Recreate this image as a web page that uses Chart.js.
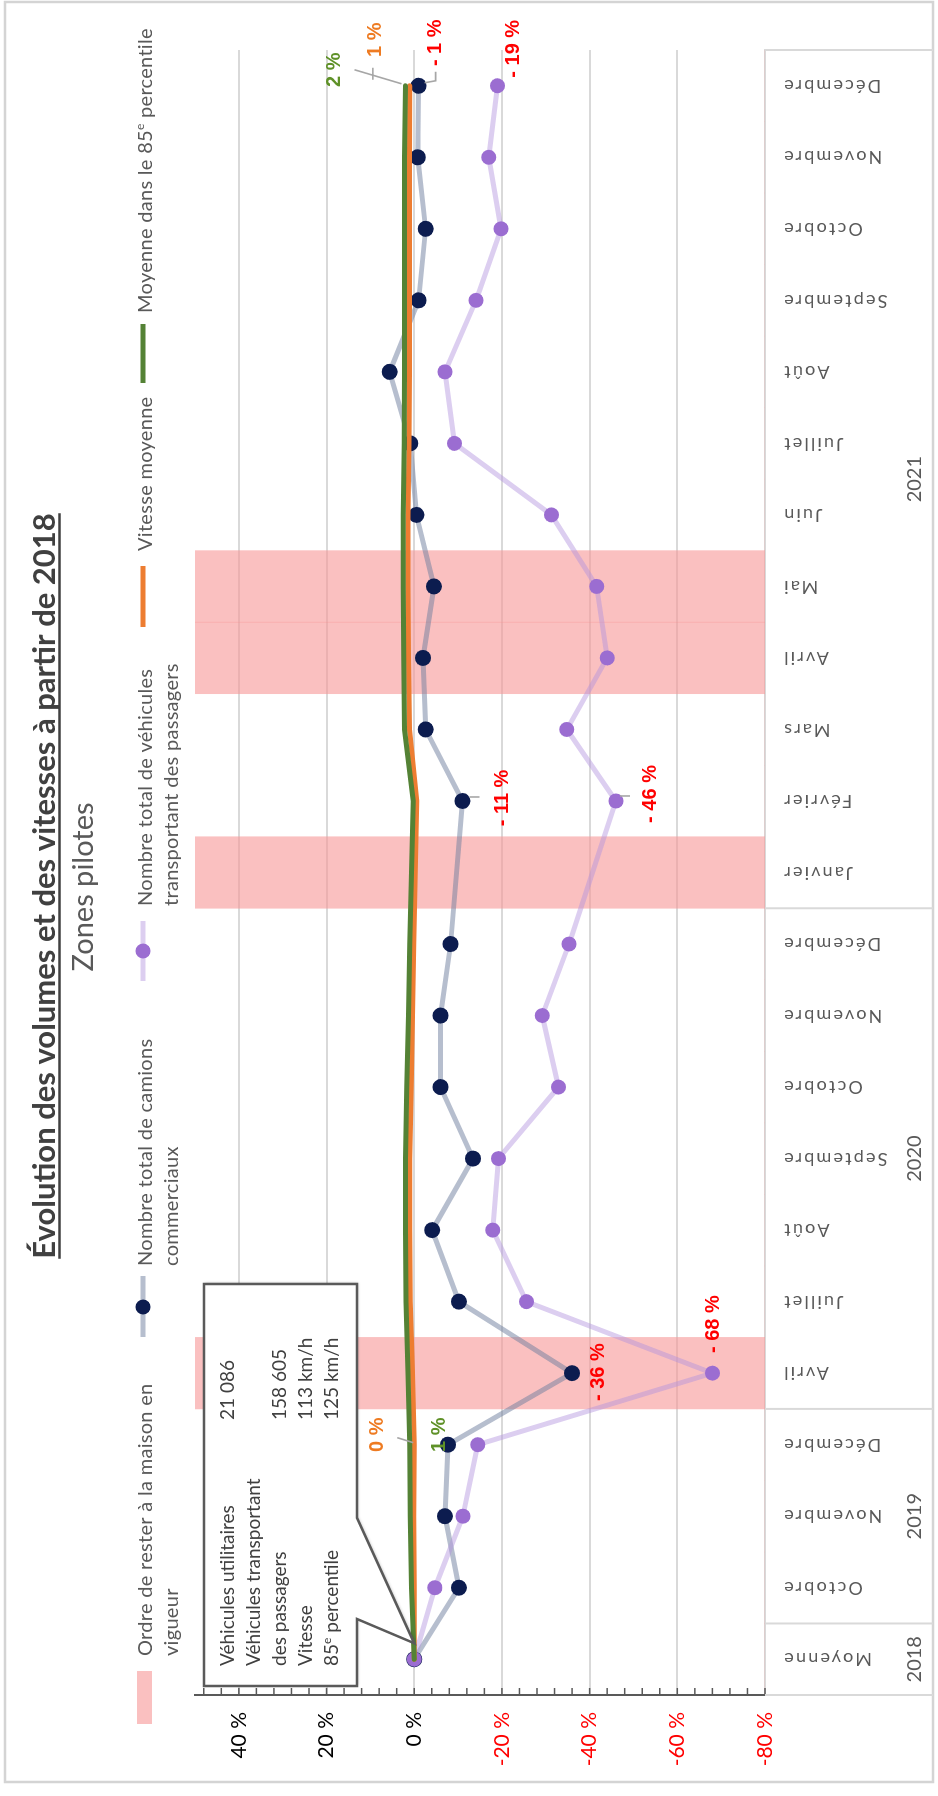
<!DOCTYPE html>
<html lang="fr">
<head>
<meta charset="utf-8">
<title>Évolution des volumes et des vitesses à partir de 2018</title>
<script src="https://cdn.jsdelivr.net/npm/chart.js@4.4.1/dist/chart.umd.min.js"></script>
<style>
  html, body { margin: 0; padding: 0; width: 938px; height: 1796px; overflow: hidden; background: #ffffff; }
  /* the sheet is laid out in landscape, then turned a quarter turn to stand upright */
  #sheet { position: absolute; left: 0; top: 0; width: 1796px; height: 938px;
           transform-origin: 0 0; transform: translate(0px, 1796px) rotate(-90deg); }
  #sheet canvas { display: block; }
</style>
</head>
<body>
<div id="sheet"><canvas id="chart" width="1796" height="938"></canvas></div>
<script>
// Columns: 2018 average, then the months reported in 2019, 2020 and 2021
const categories = ['Moyenne', 'Octobre', 'Novembre', 'Décembre',
  'Avril', 'Juillet', 'Août', 'Septembre', 'Octobre', 'Novembre', 'Décembre',
  'Janvier', 'Février', 'Mars', 'Avril', 'Mai', 'Juin', 'Juillet', 'Août', 'Septembre', 'Octobre', 'Novembre', 'Décembre'];
const yearLabels = ['2018', '2019', '2020', '2021'];
const yearStart = [0, 1, 4, 11];              // first column of each year
const stayHomeOrder = [0, 0, 0, 0, 1, 0, 0, 0, 0, 0, 0, 1, 0, 0, 1, 1, 0, 0, 0, 0, 0, 0, 0];

// Change versus the 2018 average, in %
const commercialTrucks  = [0, -10.2, -7, -7.7, -36, -10.2, -4.1, -13.4, -6, -6, -8.3, null, -11, -2.6, -2, -4.5, -0.5, 0.9, 5.6, -1, -2.6, -0.8, -1];
const passengerVehicles = [0, -4.7, -11.1, -14.5, -68, -25.6, -17.9, -19.2, -32.9, -29.2, -35.3, null, -46, -34.8, -44, -41.6, -31.3, -9.2, -7, -14.1, -19.8, -17, -19];
const averageSpeed      = [0, 0, 0.1, 0, 0.4, 0.9, 1, 1, 0.7, 0.4, 0.1, null, -0.6, 1.1, 1.3, 1.4, 1.4, 1.2, 1.1, 1.1, 1.1, 1.1, 1];
const percentile85Speed = [0, 0.6, 0.9, 1, 1.4, 1.9, 2, 2, 1.7, 1.3, 1, null, 0.2, 2.2, 2.4, 2.5, 2.5, 2.3, 2.2, 2.2, 2.2, 2.2, 2];

// 2018 reference values
const baselineRows   = ['Véhicules utilitaires', 'Véhicules transportant', 'des passagers', 'Vitesse', '85e percentile'];
const baselineValues = ['21 086', '', '158 605', '113 km/h', '125 km/h'];

const COLORS = {
  truckPoint: '#0c1c4f',
  truckLine: 'rgba(110,126,158,0.5)',
  passengerPoint: '#9b6dd1',
  passengerLine: 'rgba(178,146,222,0.45)',
  avgSpeed: '#ed7d31',
  speed85: '#548235',
  stayHome: 'rgba(247,150,150,0.6)',
  text: '#595959',
  dark: '#404040',
  red: '#ff0000',
  labelGreen: '#5f9128',
  labelOrange: '#ee7b22',
  leader: '#a6a6a6'
};
const SANS = 'Lato, "Open Sans", sans-serif';

const pct = v => (v < 0 ? '- ' + Math.abs(v) : String(v)) + ' %';

// value labels attached to individual points (dataset index, column, colour, offset)
const callouts = [
  { ds: 0, i: 22, color: COLORS.labelGreen,  dx: 16, dy: -71 },
  { ds: 1, i: 22, color: COLORS.labelOrange, dx: 46, dy: -34 },
  { ds: 3, i: 22, color: COLORS.red, dx: 43, dy: 17 },
  { ds: 2, i: 22, color: COLORS.red, dx: 37, dy: 16 },
  { ds: 3, i: 12, color: COLORS.red, dx: 3, dy: 40 },
  { ds: 2, i: 12, color: COLORS.red, dx: 7, dy: 35 },
  { ds: 3, i: 4,  color: COLORS.red, dx: 1, dy: 26 },
  { ds: 2, i: 4,  color: COLORS.red, dx: 49, dy: 1 },
  { ds: 0, i: 3,  color: COLORS.labelGreen,  dx: 10, dy: 30 },
  { ds: 1, i: 3,  color: COLORS.labelOrange, dx: 10, dy: -37 }
];
// short leader strokes, relative to their point
const leaders = [
  { ds: 0, i: 22, pts: [[2, -4], [16, -51]] },
  { ds: 1, i: 22, pts: [[6, -37], [18, -37]] },
  { ds: 3, i: 22, pts: [[3, 6], [5, 17], [14, 17]] },
  { ds: 1, i: 3,  pts: [[2, -1], [7, -17]] },
  { ds: 3, i: 12, pts: [[4, 7], [4, 17]] },
  { ds: 2, i: 12, pts: [[5, 4], [5, 14]] }
];

// text with a raised ordinal "e" (85e)
function richText(ctx, text, x, y, size, weight) {
  const m = text.match(/^(.*?\d+)e( .*)$/);
  ctx.font = `${weight || ''} ${size}px ${SANS}`;
  if (!m) { ctx.fillText(text, x, y); return; }
  ctx.fillText(m[1], x, y);
  let cx = x + ctx.measureText(m[1]).width;
  ctx.font = `${weight || ''} ${Math.round(size * 0.62)}px ${SANS}`;
  ctx.fillText('e', cx, y - size * 0.38);
  cx += ctx.measureText('e').width;
  ctx.font = `${weight || ''} ${size}px ${SANS}`;
  ctx.fillText(m[2], cx, y);
}

function stroke(ctx, pts, color, width) {
  ctx.beginPath();
  ctx.moveTo(pts[0][0], pts[0][1]);
  for (let k = 1; k < pts.length; k++) ctx.lineTo(pts[k][0], pts[k][1]);
  ctx.strokeStyle = color;
  ctx.lineWidth = width;
  ctx.stroke();
}

const sheetDecor = {
  id: 'sheetDecor',
  afterDraw(chart) {
    const { ctx, chartArea: a, scales: { x, y } } = chart;
    ctx.save();

    // outer frame
    ctx.strokeStyle = '#d4d4d4';
    ctx.lineWidth = 2.5;
    ctx.strokeRect(14, 5, 1780, 928);

    // title and subtitle
    ctx.fillStyle = COLORS.dark;
    ctx.textAlign = 'center';
    ctx.textBaseline = 'alphabetic';
    ctx.font = `bold 31px ${SANS}`;
    const title = 'Évolution des volumes et des vitesses à partir de 2018';
    ctx.fillText(title, 910, 55);
    const tw = ctx.measureText(title).width;
    stroke(ctx, [[910 - tw / 2, 59.5], [910 + tw / 2, 59.5]], COLORS.dark, 2.5);
    ctx.fillStyle = COLORS.text;
    ctx.font = `29px ${SANS}`;
    ctx.fillText('Zones pilotes', 909, 93);

    // legend
    ctx.textAlign = 'left';
    ctx.fillStyle = COLORS.stayHome;
    ctx.fillRect(72, 137, 53, 15);
    stroke(ctx, [[459, 143], [520, 143]], COLORS.truckLine, 5);
    ctx.fillStyle = COLORS.truckPoint;
    ctx.beginPath(); ctx.arc(489, 143, 7.5, 0, Math.PI * 2); ctx.fill();
    stroke(ctx, [[815, 143], [875, 143]], COLORS.passengerLine, 5);
    ctx.fillStyle = COLORS.passengerPoint;
    ctx.beginPath(); ctx.arc(845, 143, 7.5, 0, Math.PI * 2); ctx.fill();
    stroke(ctx, [[1169, 143], [1230, 143]], COLORS.avgSpeed, 5);
    stroke(ctx, [[1413, 143], [1472, 143]], COLORS.speed85, 5);
    ctx.fillStyle = COLORS.text;
    ctx.letterSpacing = '0.3px';
    const lf = 20;
    richText(ctx, 'Ordre de rester à la maison en', 140, 152, lf);
    richText(ctx, 'vigueur', 140, 178, lf);
    richText(ctx, 'Nombre total de camions', 530, 152, lf);
    richText(ctx, 'commerciaux', 530, 178, lf);
    richText(ctx, 'Nombre total de véhicules', 890, 152, lf);
    richText(ctx, 'transportant des passagers', 890, 178, lf);
    richText(ctx, 'Vitesse moyenne', 1245, 152, lf);
    richText(ctx, 'Moyenne dans le 85e percentile', 1483, 152, lf);
    ctx.letterSpacing = '0px';

    // minor tick marks on the value axis, every 4 %
    for (let v = y.min; v < y.max; v += 4) {
      const py = y.getPixelForValue(v);
      stroke(ctx, [[a.left, py], [a.left + 7, py]], '#595959', 1.5);
    }

    // month / year table under the plot
    const half = (x.getPixelForValue(1) - x.getPixelForValue(0)) / 2;
    const edges = yearStart.map(i => x.getPixelForValue(i) - half)
      .concat([x.getPixelForValue(categories.length - 1) + half]);
    edges.forEach(e => stroke(ctx, [[e, a.bottom], [e, 933]], '#d9d9d9', 2));

    ctx.fillStyle = COLORS.text;
    ctx.font = `18px ${SANS}`;
    ctx.letterSpacing = '2.2px';
    ctx.textAlign = 'right';
    ctx.textBaseline = 'middle';
    categories.forEach((c, i) => {
      ctx.save();
      ctx.translate(x.getPixelForValue(i), a.bottom + 17);
      ctx.rotate(-Math.PI / 2);
      ctx.fillText(c, 0, 0);
      ctx.restore();
    });
    ctx.letterSpacing = '0px';
    ctx.textAlign = 'center';
    ctx.font = `20px ${SANS}`;
    yearLabels.forEach((yr, k) => ctx.fillText(yr, (edges[k] + edges[k + 1]) / 2, 915));

    // leader strokes and value labels
    leaders.forEach(l => {
      const px = x.getPixelForValue(l.i);
      const py = y.getPixelForValue(chart.data.datasets[l.ds].data[l.i]);
      stroke(ctx, l.pts.map(p => [px + p[0], py + p[1]]), COLORS.leader, 1.6);
    });
    ctx.font = `bold 20px "Liberation Sans", Arial, sans-serif`;
    ctx.textAlign = 'center';
    ctx.textBaseline = 'middle';
    callouts.forEach(c => {
      const v = chart.data.datasets[c.ds].data[c.i];
      ctx.fillStyle = c.color;
      ctx.fillText(pct(v), x.getPixelForValue(c.i) + c.dx, y.getPixelForValue(v) + c.dy);
    });

    // 2018 reference box pointing at the baseline column
    const tipX = x.getPixelForValue(0) + 16, tipY = y.getPixelForValue(0);
    ctx.beginPath();
    ctx.moveTo(110, 204); ctx.lineTo(512, 204); ctx.lineTo(512, 357);
    ctx.lineTo(278, 357); ctx.lineTo(tipX, tipY); ctx.lineTo(177, 357);
    ctx.lineTo(110, 357); ctx.closePath();
    ctx.fillStyle = '#ffffff';
    ctx.shadowColor = 'rgba(0,0,0,0.25)';
    ctx.shadowBlur = 3; ctx.shadowOffsetX = 1; ctx.shadowOffsetY = 1;
    ctx.fill();
    ctx.shadowColor = 'transparent';
    ctx.strokeStyle = '#5a5a5a';
    ctx.lineWidth = 2.5;
    ctx.stroke();
    ctx.fillStyle = COLORS.dark;
    ctx.textAlign = 'left';
    ctx.textBaseline = 'alphabetic';
    baselineRows.forEach((r, k) => richText(ctx, r, 130, 234 + 26 * k, 19));
    baselineValues.forEach((v, k) => { if (v) richText(ctx, v, 376, 234 + 26 * k, 19); });

    ctx.restore();
  }
};

new Chart(document.getElementById('chart'), {
  type: 'line',
  data: {
    labels: categories,
    datasets: [
      { label: 'Moyenne dans le 85e percentile', data: percentile85Speed,
        borderColor: COLORS.speed85, borderWidth: 5, pointRadius: 0, spanGaps: true, order: 1 },
      { label: 'Vitesse moyenne', data: averageSpeed,
        borderColor: COLORS.avgSpeed, borderWidth: 5, pointRadius: 0, spanGaps: true, order: 2 },
      { label: 'Nombre total de véhicules transportant des passagers', data: passengerVehicles,
        borderColor: COLORS.passengerLine, borderWidth: 5, pointRadius: 7.5,
        pointBackgroundColor: COLORS.passengerPoint, pointBorderWidth: 0, spanGaps: true, order: 3 },
      { label: 'Nombre total de camions commerciaux', data: commercialTrucks,
        borderColor: COLORS.truckLine, borderWidth: 5, pointRadius: 8,
        pointBackgroundColor: COLORS.truckPoint, pointBorderWidth: 0, spanGaps: true, order: 4 },
      { type: 'bar', label: 'Ordre de rester à la maison en vigueur', data: stayHomeOrder, yAxisID: 'band',
        backgroundColor: COLORS.stayHome, borderWidth: 0, barPercentage: 1, categoryPercentage: 1, order: 5 }
    ]
  },
  options: {
    responsive: false,
    animation: false,
    devicePixelRatio: 1,
    layout: { autoPadding: false, padding: { top: 195, right: 50, bottom: 173, left: 0 } },
    elements: { line: { tension: 0, borderCapStyle: 'round', borderJoinStyle: 'round' } },
    plugins: { legend: { display: false }, tooltip: { enabled: false }, title: { display: false } },
    scales: {
      x: {
        type: 'category', offset: true,
        grid: { display: false, drawTicks: false },
        ticks: { display: false },
        border: { display: true, color: '#d9d9d9', width: 2 }
      },
      y: {
        min: -80, max: 50,
        afterFit(scale) { scale.width = 101; },
        grid: { color: 'rgba(0,0,0,0.15)', lineWidth: 2, drawTicks: false },
        border: { display: true, color: '#595959', width: 2 },
        ticks: {
          stepSize: 20, includeBounds: false, padding: 17,
          font: { family: SANS, size: 21 },
          color: c => (c.tick && c.tick.value < 0 ? COLORS.red : '#000000'),
          callback: v => v + ' %'
        }
      },
      band: { display: false, min: 0, max: 1 }
    }
  },
  plugins: [sheetDecor]
});
</script>
</body>
</html>
